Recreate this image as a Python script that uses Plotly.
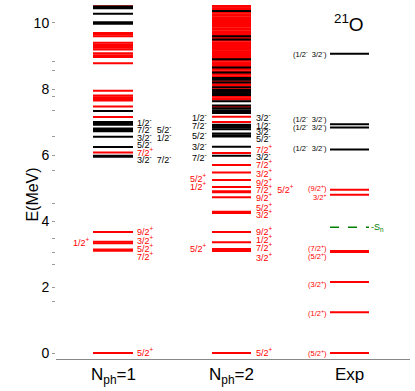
import plotly.graph_objects as go

# level energies (MeV), red = positive parity, black = negative parity
n1_pos = [0.0, 3.10, 3.14, 3.33, 3.37, 3.67, 6.08, 7.15, 7.47, 7.65, 7.70, 7.75, 7.80,
          7.95, 8.78, 8.97, 9.02, 9.08, 9.20, 9.25, 9.30, 9.35, 9.40, 9.60, 9.65, 9.70, 10.55]
n1_neg = [5.95, 5.98, 6.24, 6.55, 6.72, 6.76, 6.80, 6.92, 6.96, 7.00, 7.33,
          9.98, 10.02, 10.28, 10.45, 10.48, 10.50]

n2_pos = [0.0, 3.09, 3.13, 3.15, 3.36, 3.67, 4.24, 4.28, 4.72, 4.87, 4.90, 5.03, 5.24,
          5.47, 5.70, 6.06, 7.00, 7.16, 7.46,
          7.68, 7.72, 7.77, 7.83, 7.88, 7.93, 7.99, 8.04, 8.10, 8.14, 8.19, 8.23, 8.29,
          8.34, 8.38, 8.43, 8.47, 8.53, 8.58, 8.62, 8.67, 8.72, 8.76, 8.81, 8.86, 8.91,
          8.95, 9.00, 9.05, 9.09, 9.14, 9.19, 9.24, 9.28, 9.33, 9.38, 9.42, 9.47, 9.52,
          9.56, 9.61, 9.66, 9.70, 9.75, 9.80, 9.84, 9.89, 9.94, 9.98, 10.03, 10.08,
          10.12, 10.17, 10.22, 10.26, 10.31, 10.35, 10.40, 10.45, 10.49, 10.54, 10.60]
n2_neg = [5.98, 6.25, 6.56, 6.60, 6.65, 6.78, 6.83, 6.88, 6.92, 7.27, 7.32, 7.36,
          7.42, 7.50, 7.63, 7.82, 7.87, 7.92, 7.97, 8.05, 8.20, 8.28, 8.33, 8.50,
          8.65, 8.90, 9.50, 9.60, 10.36]

exp_pos = [0.0, 1.24, 2.15, 3.06, 3.09, 4.80, 4.95]
exp_neg = [6.17, 6.83, 6.93, 9.07]
sn = 3.81

# spin labels: (energy of text, text, colour)
n1_right = [(7.00, "1/2-", "k"), (6.78, "7/2- 5/2-", "k"), (6.55, "3/2- 1/2-", "k"),
            (6.33, "5/2-", "k"), (6.10, "7/2+", "r"), (5.87, "3/2- 7/2-", "k"),
            (3.69, "9/2+", "r"), (3.42, "3/2+", "r"), (3.18, "5/2+", "r"),
            (2.94, "7/2+", "r"), (0.03, "5/2+", "r")]
n1_left = [(3.36, "1/2+", "r")]
n2_right = [(7.14, "3/2-", "k"), (6.91, "1/2-", "k"), (6.73, "3/2-", "k"),
            (6.53, "5/2-", "k"), (6.17, "7/2+", "r"), (5.97, "3/2-", "k"),
            (5.72, "7/2+", "r"), (5.46, "3/2+", "r"), (5.19, "9/2+", "r"),
            (4.96, "7/2+ 5/2+", "r"), (4.74, "9/2+", "r"), (4.43, "5/2+", "r"),
            (4.21, "3/2+", "r"), (3.70, "9/2+", "r"), (3.45, "1/2+", "r"),
            (3.20, "7/2+", "r"), (2.90, "3/2+", "r"), (0.03, "5/2+", "r")]
n2_left = [(7.14, "1/2-", "k"), (6.91, "7/2-", "k"), (6.62, "5/2-", "k"),
           (6.27, "3/2-", "k"), (5.95, "7/2-", "k"), (5.29, "5/2+", "r"),
           (5.06, "1/2+", "r"), (3.18, "5/2+", "r")]
exp_left = [(9.06, "(1/2- 3/2-)", "k"), (7.10, "(1/2- 3/2-)", "k"),
            (6.86, "(1/2- 3/2-)", "k"), (6.20, "(1/2- 3/2-)", "k"),
            (4.99, "(9/2+)", "r"), (4.74, "3/2+", "r"), (3.18, "(7/2+)", "r"),
            (2.94, "(5/2+)", "r"), (2.09, "(3/2+)", "r"), (1.21, "(1/2+)", "r"),
            (0.0, "(5/2+)", "r")]

col_names = ["N<sub>ph</sub>=1", "N<sub>ph</sub>=2", "Exp"]
minor_ticks = [8.82, 8.55, 7.76, 7.36, 6.55, 5.52, 4.52, 3.48, 3.06, 2.67, 1.55]

RED = "#ff0000"
BLACK = "#000000"
FONT = "Liberation Sans, Arial, sans-serif"
cols = {"c1": (37, 77), "c2": (156, 195), "c3": (274, 313)}


def spin(s):
    # "7/2-" -> "7/2<sup>-</sup>", keeps brackets outside
    out = []
    for part in s.split(" "):
        close = ""
        if part.endswith(")"):
            close = ")"
            part = part[:-1]
        out.append(part[:-1] + "<sup>" + part[-1] + "</sup>" + close)
    return "  ".join(out)


def level_trace(energies, col, color, width=2, dash=None):
    x0, x1 = cols[col]
    xs, ys = [], []
    for e in energies:
        xs += [x0, x1, None]
        ys += [e, e, None]
    return go.Scatter(x=xs, y=ys, mode="lines", hoverinfo="skip", showlegend=False,
                      line=dict(color=color, width=width, dash=dash))


fig = go.Figure()
fig.add_trace(level_trace(n1_pos, "c1", RED))
fig.add_trace(level_trace(n1_neg, "c1", BLACK))
fig.add_trace(level_trace(n2_pos, "c2", RED))
fig.add_trace(level_trace(n2_neg, "c2", BLACK))
fig.add_trace(level_trace(exp_pos, "c3", RED))
fig.add_trace(level_trace(exp_neg, "c3", BLACK))
fig.add_trace(level_trace([sn], "c3", "#008000", width=1.4, dash="dash"))

ann = []


def add_labels(labels, x, anchor, size):
    for e, txt, c in labels:
        ann.append(dict(x=x, y=e, text=spin(txt), showarrow=False, xanchor=anchor,
                        yanchor="middle", font=dict(size=size, family=FONT,
                                                    color=RED if c == "r" else BLACK)))


add_labels(n1_right, 79, "left", 9)
add_labels(n1_left, 36, "right", 9)
add_labels(n2_right, 198, "left", 9)
add_labels(n2_left, 153, "right", 9)
add_labels(exp_left, 273, "right", 7.5)
ann.append(dict(x=313, y=sn, text="-S<sub>n</sub>", showarrow=False, xanchor="left",
                font=dict(size=9, family=FONT, color="#008000")))
ann.append(dict(x=293, y=10.0, text="<sup>21</sup>O", showarrow=False,
                font=dict(size=19, family=FONT, color="black")))
ann.append(dict(xref="paper", yref="paper", x=-0.096, y=0.463, text="E(MeV)",
                textangle=-90, showarrow=False,
                font=dict(size=16, family=FONT, color="black")))
for xc, name in zip([57, 175.5, 293.5], col_names):
    ann.append(dict(x=xc, xref="x", yref="paper", y=-0.012, yanchor="top", text=name,
                    showarrow=False, font=dict(size=17, family=FONT, color="black")))

tickvals = [0, 2, 4, 6, 8, 10] + minor_ticks
ticktext = ["0", "2", "4", "6", "8", "10"] + [" "] * len(minor_ticks)

fig.update_layout(
    width=415, height=391,
    margin=dict(l=56, r=5, t=5, b=32),
    paper_bgcolor="white", plot_bgcolor="white",
    annotations=ann,
    xaxis=dict(range=[0, 354], showticklabels=False,
               showgrid=False, zeroline=False, showline=True, linecolor="#888888",
               linewidth=1, ticks=""),
    yaxis=dict(range=[-0.18, 10.545], tickmode="array", tickvals=tickvals,
               ticktext=ticktext, showgrid=False, zeroline=False, showline=False,
               ticks="outside", ticklen=3, tickcolor="#999999",
               tickfont=dict(size=14, family=FONT, color="black")),
)

# the page body has a default 8px margin; drop it so the figure sits at the corner
fig.write_html("out.html", config={"displayModeBar": False},
               post_script="document.body.style.margin='0';")
